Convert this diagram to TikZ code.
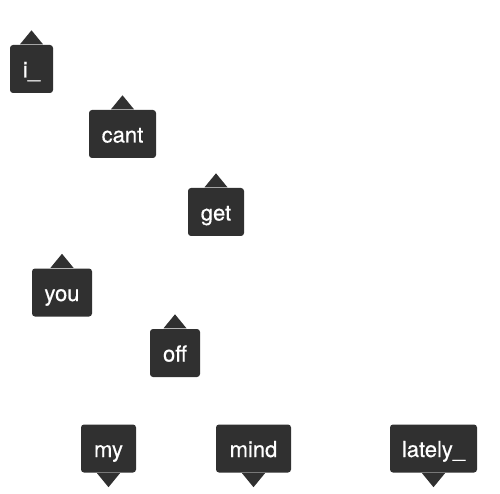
\documentclass[tikz,border=0pt]{standalone}
\usepackage{fontspec}
\setmainfont{TeX Gyre Heros}[FakeBold=0.4]
\usetikzlibrary{calc}
\definecolor{tagbg}{HTML}{303030}
\tikzset{
  tag/.style={fill=tagbg, text=white, rounded corners=3pt, inner sep=0pt,
    minimum height=48pt, text height=20pt, text depth=3pt,
    font=\fontsize{22pt}{24pt}\selectfont},
  ptr/.style={fill=tagbg}
}
\newcommand{\uptr}[1]{\fill[ptr] ($(#1.north)+(-11.5pt,0.5pt)$) -- ($(#1.north)+(0,14.5pt)$) -- ($(#1.north)+(11.5pt,0.5pt)$) -- cycle;}
\newcommand{\dptr}[1]{\fill[ptr] ($(#1.south)+(-11.5pt,-0.5pt)$) -- ($(#1.south)+(0,-14.5pt)$) -- ($(#1.south)+(11.5pt,-0.5pt)$) -- cycle;}
\begin{document}
\begin{tikzpicture}[x=1pt,y=-1pt]
\useasboundingbox (0,0) rectangle (500,494);
\node[tag, minimum width=43pt] (n1) at (31.5,69) {i\_};
\node[tag, minimum width=67pt] (n2) at (122.5,134) {cant};
\node[tag, minimum width=56pt] (n3) at (216,212) {get};
\node[tag, minimum width=60pt] (n4) at (62,292.5) {you};
\node[tag, minimum width=50pt] (n5) at (175,353) {off};
\node[tag, minimum width=55pt] (n6) at (108.5,448.5) {my};
\node[tag, minimum width=75pt] (n7) at (253.5,448.5) {mind};
\node[tag, minimum width=87pt] (n8) at (433.5,448.5) {lately\_};
\uptr{n1}
\uptr{n2}
\uptr{n3}
\uptr{n4}
\uptr{n5}
\dptr{n6}
\dptr{n7}
\dptr{n8}
\end{tikzpicture}
\end{document}
